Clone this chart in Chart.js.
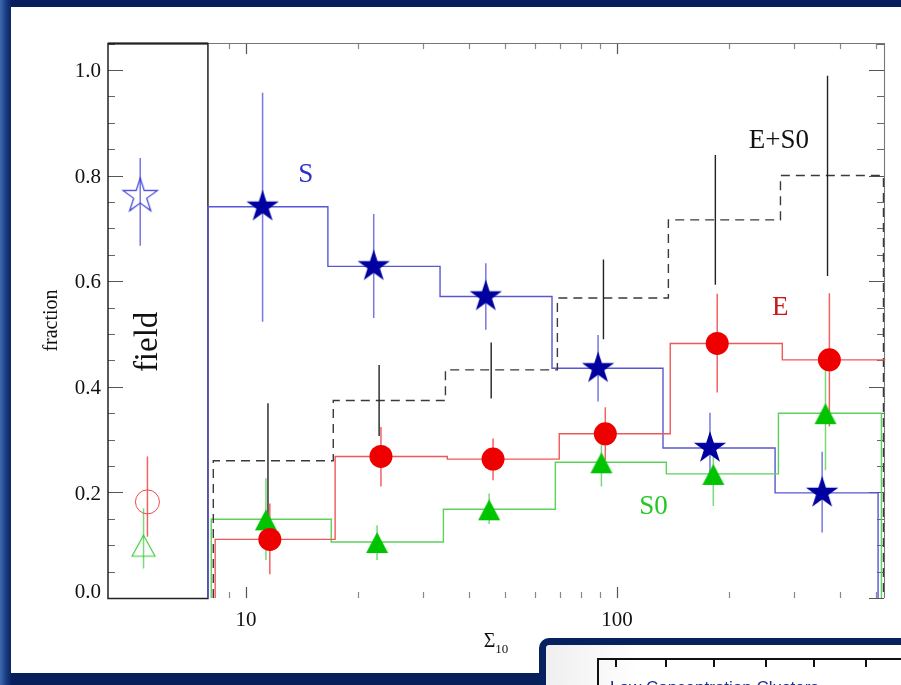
<!DOCTYPE html>
<html>
<head>
<meta charset="utf-8">
<title>Morphology fractions vs local density</title>
<script src="https://cdn.jsdelivr.net/npm/chart.js@4.4.1/dist/chart.umd.min.js"></script>
<style>
  html, body { margin: 0; padding: 0; width: 901px; height: 685px; overflow: hidden; background: #07205c; }
  #edge { position: absolute; left: 0; top: 0; width: 11px; height: 685px;
          background: linear-gradient(to right, #3c6ab2, #1a3c80 55%, #0a2461); }
  #panel { position: absolute; left: 11px; top: 7px; width: 890px; height: 666px; background: #fff; }
  #chart { position: absolute; left: 0; top: 0; }
  #inset { position: absolute; left: 539px; top: 638px; width: 380px; height: 80px; box-sizing: border-box;
           border: 7px solid #062060; border-right: none; border-bottom: none; border-radius: 10px 0 0 0;
           background: linear-gradient(to right, #efefef, #fff 25%); overflow: hidden; }
  #inset .box { position: absolute; left: 51px; top: 13px; width: 400px; height: 60px;
                border-top: 2px solid #111; border-left: 2px solid #111; }
  #inset .tk { position: absolute; top: 13px; width: 2px; height: 9px; background: #111; }
  #inset .ttl { position: absolute; left: 64px; top: 34px; font: 17px "Liberation Sans", Arial, sans-serif;
                line-height: 17px; color: #1c2a8a; white-space: nowrap; }
</style>
</head>
<body>
<div id="edge"></div>
<div id="panel"></div>
<canvas id="chart" width="901" height="685"></canvas>
<div id="inset">
  <div class="box"></div>
  <div class="tk" style="left:69px"></div>
  <div class="tk" style="left:119px"></div>
  <div class="tk" style="left:167px"></div>
  <div class="tk" style="left:219px"></div>
  <div class="tk" style="left:267px"></div>
  <div class="tk" style="left:319px"></div>
  <div class="ttl">Low Concentration Clusters</div>
</div>
<script>
// Density bins in projected local density Sigma_10 (bin edges and bin centres)
const binEdges = [7.90, 16.63, 33.35, 66.8, 133.0, 266.6, 505.1];
const binCentres = [11.09, 22.1, 44.3, 88.9, 178, 357];
// x position used for the separate "field" column left of the density bins
const fieldColumn = 5.19;

// Spirals (S)
const fracS    = [0.741, 0.628, 0.571, 0.435, 0.284, 0.199];
const fracS_lo = [0.523, 0.530, 0.508, 0.372, 0.215, 0.124];
const fracS_hi = [0.957, 0.727, 0.634, 0.498, 0.351, 0.277];
// Ellipticals (E)
const fracE    = [0.111, 0.268, 0.263, 0.311, 0.482, 0.451];
const fracE_lo = [0.045, 0.211, 0.223, 0.261, 0.389, 0.325];
const fracE_hi = [0.179, 0.324, 0.302, 0.361, 0.576, 0.577];
// Lenticulars (S0)
const fracS0    = [0.149, 0.106, 0.168, 0.257, 0.235, 0.350];
const fracS0_lo = [0.072, 0.072, 0.140, 0.211, 0.174, 0.242];
const fracS0_hi = [0.227, 0.138, 0.198, 0.300, 0.296, 0.432];
// Early types (E+S0)
const fracES0    = [0.260, 0.374, 0.432, 0.568, 0.716, 0.800];
const fracES0_lo = [0.150, 0.307, 0.378, 0.490, 0.593, 0.610];
const fracES0_hi = [0.369, 0.441, 0.484, 0.641, 0.839, 0.989];
// Field values: [fraction, lower, upper]
const fieldS  = [0.761, 0.667, 0.833];
const fieldE  = [0.182, 0.116, 0.268];
const fieldS0 = [0.099, 0.056, 0.170];

// Axis ticks
const yTickLabels = ['0.0', '0.2', '0.4', '0.6', '0.8', '1.0'];
const xTickLabels = ['10', '100'];
const xMinorTicks = [9, 10, 20, 30, 40, 50, 60, 70, 80, 90, 100, 200, 300, 400, 500];

// Small horizontal shifts (in dex) so the overlapping series stay readable
const shift = { S: 0, S0: 0.009, ES0: 0.0145, E: 0.0195 };
const sh = (x, key) => x * Math.pow(10, shift[key]);

function stepLine(vals, key) {
  const pts = [{ x: sh(binEdges[0], key), y: 0 }];
  vals.forEach((v, i) => {
    pts.push({ x: sh(binEdges[i], key), y: v });
    pts.push({ x: sh(binEdges[i + 1], key), y: v });
  });
  pts.push({ x: sh(binEdges[binEdges.length - 1], key), y: 0 });
  return pts;
}
function errorBars(lo, hi, field, key) {
  const pts = [];
  binCentres.forEach((c, i) => {
    pts.push({ x: sh(c, key), y: lo[i] }, { x: sh(c, key), y: hi[i] }, { x: sh(c, key), y: null });
  });
  if (field) {
    const fx = sh(fieldColumn, key);
    pts.push({ x: fx, y: field[1] }, { x: fx, y: field[2] }, { x: fx, y: null });
  }
  return pts;
}
const points = (vals, key) => vals.map((v, i) => ({ x: sh(binCentres[i], key), y: v }));

// Marker images
function starImage(R, fill, stroke, lw) {
  const s = Math.ceil(2 * R + 4), c = document.createElement('canvas');
  c.width = c.height = s;
  const g = c.getContext('2d'), cx = s / 2, cy = s / 2, r = R * 0.382;
  g.beginPath();
  for (let k = 0; k < 10; k++) {
    const a = -Math.PI / 2 + k * Math.PI / 5, rr = k % 2 ? r : R;
    g.lineTo(cx + rr * Math.cos(a), cy + rr * Math.sin(a));
  }
  g.closePath();
  if (fill) { g.fillStyle = fill; g.fill(); }
  if (stroke) { g.strokeStyle = stroke; g.lineWidth = lw; g.stroke(); }
  return c;
}
function triangleImage(half, up, down, fill, stroke, lw) {
  const s = Math.ceil(2 * Math.max(half, up, down) + 4), c = document.createElement('canvas');
  c.width = c.height = s;
  const g = c.getContext('2d'), cx = s / 2, cy = s / 2;
  g.beginPath();
  g.moveTo(cx, cy - up); g.lineTo(cx + half, cy + down); g.lineTo(cx - half, cy + down); g.closePath();
  if (fill) { g.fillStyle = fill; g.fill(); }
  if (stroke) { g.strokeStyle = stroke; g.lineWidth = lw; g.stroke(); }
  return c;
}
const starFilled = starImage(17, '#0000a0');
const starOpen = starImage(18, null, '#3b3bd6', 1.2);
const triFilled = triangleImage(11, 10, 11, '#00c400');
const triOpen = triangleImage(11.5, 10.5, 10.5, null, '#33cc33', 1.1);

const C = {
  S: '#0000a0', Sline: '#5757d4', Serr: '#7878e0',
  E: '#ee0000', Eline: '#f05858', Eerr: '#f26262',
  S0: '#00c400', S0line: '#5cd25c', S0err: '#78da78',
  ES0line: '#3a3a3a', ES0err: '#222'
};

const hist = (data, color, order, dash) => ({
  type: 'scatter', data, showLine: true, borderColor: color, borderWidth: 1.4, pointRadius: 0,
  borderDash: dash || [], spanGaps: false, order, clip: 6
});
const errs = (data, color, order, w) => ({
  type: 'scatter', data, showLine: true, borderColor: color, borderWidth: w || 1.5, pointRadius: 0,
  spanGaps: false, order
});
const marks = (data, style, order, extra) => Object.assign({
  type: 'scatter', data, pointStyle: style, pointRadius: 11, order, showLine: false
}, extra || {});

const datasets = [
  hist(stepLine(fracS, 'S'), C.Sline, 23),
  hist(stepLine(fracS0, 'S0'), C.S0line, 22),
  hist(stepLine(fracES0, 'ES0'), C.ES0line, 21, [9, 6]),
  hist(stepLine(fracE, 'E'), C.Eline, 20),
  errs(errorBars(fracS_lo, fracS_hi, fieldS, 'S'), C.Serr, 13),
  errs(errorBars(fracES0_lo, fracES0_hi, null, 'ES0'), C.ES0err, 12, 1.4),
  errs(errorBars(fracS0_lo, fracS0_hi, fieldS0, 'S0'), C.S0err, 11),
  errs(errorBars(fracE_lo, fracE_hi, fieldE, 'E'), C.Eerr, 10),
  marks(points(fracS, 'S'), starFilled, 3),
  marks(points(fracS0, 'S0'), triFilled, 2),
  marks(points(fracE, 'E'), 'circle', 1, { pointRadius: 11.5, backgroundColor: C.E, borderWidth: 0 }),
  marks([{ x: sh(fieldColumn, 'S'), y: fieldS[0] }], starOpen, 3),
  marks([{ x: sh(fieldColumn, 'S0'), y: fieldS0[0] }], triOpen, 2),
  marks([{ x: sh(fieldColumn, 'E'), y: fieldE[0] }], 'circle', 1,
        { pointRadius: 12, backgroundColor: 'rgba(0,0,0,0)', borderColor: '#f04a4a', borderWidth: 1 })
];

const SERIF = '"Liberation Serif", "Times New Roman", serif';

// Frame, inward ticks, tick labels, axis titles and series names
const framePlugin = {
  id: 'frameAndLabels',
  beforeDatasetsDraw(chart) {
    const { ctx, chartArea: a, scales: { x: xs, y: ys } } = chart;
    const fx = xs.getPixelForValue(binEdges[0]);
    ctx.save();
    ctx.lineCap = 'butt';

    // y ticks, left and right, every 0.05
    for (let k = 0; k * 0.05 <= ys.max + 1e-9; k++) {
      const py = Math.round(ys.getPixelForValue(k * 0.05)) + 0.5;
      const len = k % 4 === 0 ? 15 : 7;
      ctx.strokeStyle = k % 4 === 0 ? '#555' : '#666';
      ctx.lineWidth = 1.2;
      ctx.beginPath();
      ctx.moveTo(a.left, py); ctx.lineTo(a.left + len, py);
      ctx.moveTo(a.right, py); ctx.lineTo(a.right - len, py);
      ctx.stroke();
    }
    // x ticks, top and bottom, density part only
    xMinorTicks.forEach(t => {
      const px = Math.round(xs.getPixelForValue(t)) + 0.5;
      if (px <= fx + 2) return;
      const major = xTickLabels.includes(String(t));
      const len = major ? 11 : 6;
      ctx.strokeStyle = major ? '#555' : '#888';
      ctx.lineWidth = 1.2;
      ctx.beginPath();
      ctx.moveTo(px, a.bottom); ctx.lineTo(px, a.bottom - len);
      ctx.moveTo(px, a.top); ctx.lineTo(px, a.top + len);
      ctx.stroke();
    });

    // main frame (top and right)
    ctx.strokeStyle = '#777';
    ctx.lineWidth = 1.1;
    ctx.beginPath();
    ctx.moveTo(fx, a.top + 0.5); ctx.lineTo(a.right + 0.5, a.top + 0.5); ctx.lineTo(a.right + 0.5, a.bottom);
    ctx.stroke();
    // field box
    ctx.strokeStyle = '#222';
    ctx.lineWidth = 1.5;
    ctx.strokeRect(a.left, a.top + 0.5, fx - a.left, a.bottom - a.top);
    ctx.lineWidth = 2.2;
    ctx.beginPath(); ctx.moveTo(a.left, a.top + 0.5); ctx.lineTo(fx, a.top + 0.5); ctx.stroke();

    // tick labels
    ctx.fillStyle = '#111';
    ctx.font = '21px ' + SERIF;
    ctx.textAlign = 'right';
    ctx.textBaseline = 'alphabetic';
    yTickLabels.forEach(lbl => {
      const py = ys.getPixelForValue(parseFloat(lbl));
      const cy = Math.min(py, a.bottom - 7.5);
      ctx.fillText(lbl, a.left - 7, cy + 7.3);
    });
    ctx.textAlign = 'center';
    xTickLabels.forEach(lbl => {
      ctx.fillText(lbl, xs.getPixelForValue(parseFloat(lbl)), a.bottom + 28);
    });

    // axis titles
    ctx.save();
    ctx.translate(a.left - 51, (a.top + a.bottom) / 2);
    ctx.rotate(-Math.PI / 2);
    ctx.font = '20px ' + SERIF;
    ctx.fillText('fraction', 0, 0);
    ctx.restore();

    ctx.font = '20px ' + SERIF;
    const wSig = ctx.measureText('Σ').width;
    ctx.font = '13px ' + SERIF;
    const wSub = ctx.measureText('10').width;
    const cx = (a.left + a.right) / 2;
    const x0 = cx - (wSig + wSub) / 2;
    ctx.textAlign = 'left';
    ctx.font = '20px ' + SERIF;
    ctx.fillText('Σ', x0, a.bottom + 48.5);
    ctx.font = '13px ' + SERIF;
    ctx.fillText('10', x0 + wSig, a.bottom + 55);

    // series names
    ctx.textAlign = 'center';
    const names = [
      ['S', 14.5, 0.788, '#2d2dcc'],
      ['E+S0', 272.8, 0.852, '#111'],
      ['E', 275.2, 0.536, '#c41a1a'],
      ['S0', 125.3, 0.159, '#22c822']
    ];
    ctx.font = '27px ' + SERIF;
    names.forEach(([t, sx, fy, col]) => {
      ctx.fillStyle = col;
      ctx.fillText(t, xs.getPixelForValue(sx), ys.getPixelForValue(fy));
    });

    // field column title
    ctx.save();
    ctx.translate(xs.getPixelForValue(5.76), ys.getPixelForValue(0.485));
    ctx.rotate(-Math.PI / 2);
    ctx.fillStyle = '#111';
    ctx.font = '33px ' + SERIF;
    ctx.fillText('field', 0, 0);
    ctx.restore();

    ctx.restore();
  }
};

new Chart(document.getElementById('chart'), {
  type: 'scatter',
  data: { datasets },
  options: {
    responsive: false,
    animation: false,
    devicePixelRatio: 1,
    layout: { padding: { left: 108, right: 17, top: 43, bottom: 87 } },
    plugins: { legend: { display: false }, tooltip: { enabled: false } },
    scales: {
      x: { type: 'logarithmic', min: 4.25, max: 524, display: false },
      y: { type: 'linear', min: 0, max: 1.051, display: false }
    },
    elements: { line: { tension: 0 } }
  },
  plugins: [framePlugin]
});
</script>
</body>
</html>
